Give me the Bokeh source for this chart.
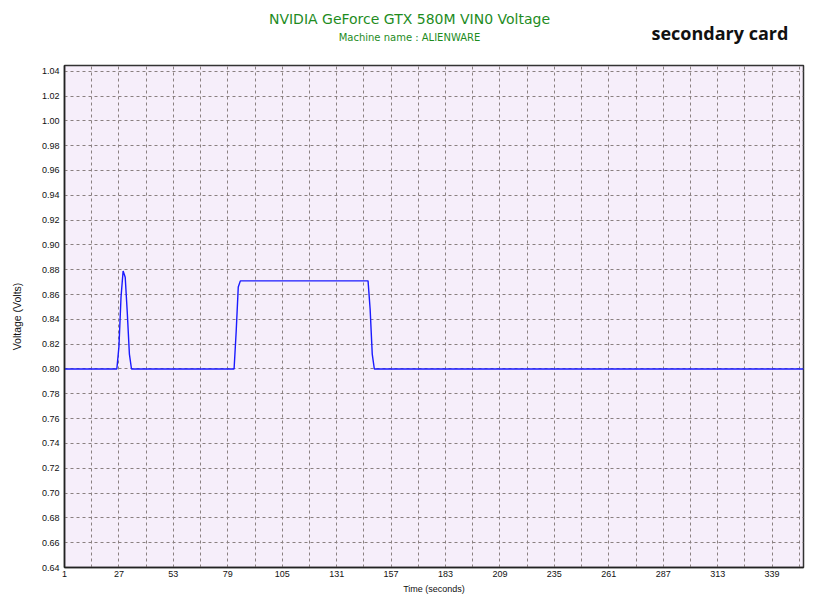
from bokeh.plotting import figure
from bokeh.models import Range1d, FixedTicker, NumeralTickFormatter
from bokeh.layouts import column
from bokeh.core.properties import value
from bokeh.embed import file_html
from bokeh.resources import INLINE

# ---- data ----
time_s = [1, 26, 27, 28, 29, 30, 31, 32, 33, 82, 83, 84, 85, 146, 147, 148, 149, 354]
volts = [0.800, 0.800, 0.818, 0.858, 0.879, 0.874, 0.845, 0.812, 0.800,
         0.800, 0.830, 0.866, 0.871, 0.871, 0.848, 0.812, 0.800, 0.800]
x_tick_labels = [1, 27, 53, 79, 105, 131, 157, 183, 209, 235, 261, 287, 313, 339]
x_grid_positions = [1, 14, 27, 40, 53, 66, 79, 92, 105, 118, 131, 144, 157, 170, 183, 196,
                    209, 222, 235, 248, 261, 274, 287, 300, 313, 326, 339, 352]
y_ticks = [0.64, 0.66, 0.68, 0.70, 0.72, 0.74, 0.76, 0.78, 0.80, 0.82, 0.84,
           0.86, 0.88, 0.90, 0.92, 0.94, 0.96, 0.98, 1.00, 1.02, 1.04]

title_text = "NVIDIA GeForce GTX 580M VIN0 Voltage"
subtitle_text = "Machine name : ALIENWARE"
corner_text = "secondary card"

W = 811
HEAD_H = 57
FRAME_L = 64
FRAME_R = 803

# ---- header (titles); its frame is aligned with the chart frame by the column ----
h = figure(width=W, height=HEAD_H, output_backend="svg", toolbar_location=None,
           x_range=Range1d(FRAME_L, FRAME_R), y_range=Range1d(HEAD_H, 0),
           min_border_left=0, min_border_right=0, min_border_top=0, min_border_bottom=0)
h.axis.visible = False
h.grid.visible = False
h.outline_line_color = None
h.background_fill_color = "white"
h.border_fill_color = "white"
h.text(x=[409], y=[18], text=[title_text], text_align="center", text_baseline="middle",
       text_font=value("DejaVu Sans"), text_font_size="14px", text_color="#1e8c1e")
h.text(x=[409], y=[37], text=[subtitle_text], text_align="center", text_baseline="middle",
       text_font=value("DejaVu Sans"), text_font_size="10px", text_color="#1e8c1e")
h.text(x=[651], y=[32], text=[corner_text], text_align="left", text_baseline="middle",
       text_font=value("Open Sans"), text_font_size="18px", text_font_style="bold",
       text_color="#111111")

# ---- main chart ----
p = figure(width=W, height=543, output_backend="svg", toolbar_location=None,
           x_range=Range1d(1, 354), y_range=Range1d(0.64, 1.0446),
           min_border_left=FRAME_L, min_border_right=W - FRAME_R, min_border_top=8,
           min_border_bottom=33)

p.border_fill_color = "white"
p.background_fill_color = "#f6eefa"
p.outline_line_color = "#333333"
p.outline_line_width = 1.5

p.line(time_s, volts, line_color="#1a1aff", line_width=1.4)

p.xaxis.ticker = FixedTicker(ticks=x_tick_labels)
p.yaxis.ticker = FixedTicker(ticks=y_ticks)
p.yaxis.formatter = NumeralTickFormatter(format="0.00")
for ax in (p.xaxis[0], p.yaxis[0]):
    ax.major_tick_in = 0
    ax.major_tick_out = 0
    ax.minor_tick_in = 0
    ax.minor_tick_out = 0
    ax.axis_line_color = "#222222"
    ax.axis_line_width = 1.5
    ax.major_label_text_font = "Liberation Sans"
    ax.major_label_text_font_size = "9px"
    ax.major_label_text_color = "#111111"
    ax.axis_label_text_font = "Liberation Sans"
    ax.axis_label_text_font_style = "normal"
    ax.axis_label_text_color = "#111111"
p.xaxis.axis_label = "Time (seconds)"
p.yaxis.axis_label = "Voltage (Volts)"
p.xaxis.axis_label_text_font_size = "9px"
p.yaxis.axis_label_text_font_size = "10.5px"
p.xaxis.major_label_standoff = 3
p.yaxis.major_label_standoff = 5
p.xaxis.axis_label_standoff = 4
p.yaxis.axis_label_standoff = 16

p.xgrid.ticker = FixedTicker(ticks=x_grid_positions)
p.ygrid.ticker = FixedTicker(ticks=y_ticks)
for g in (p.xgrid[0], p.ygrid[0]):
    g.grid_line_color = "#8a8080"
    g.grid_line_dash = "3 3"
    g.grid_line_width = 1

layout = column(h, p, spacing=0)
open("out.html", "w").write(file_html(layout, INLINE))
